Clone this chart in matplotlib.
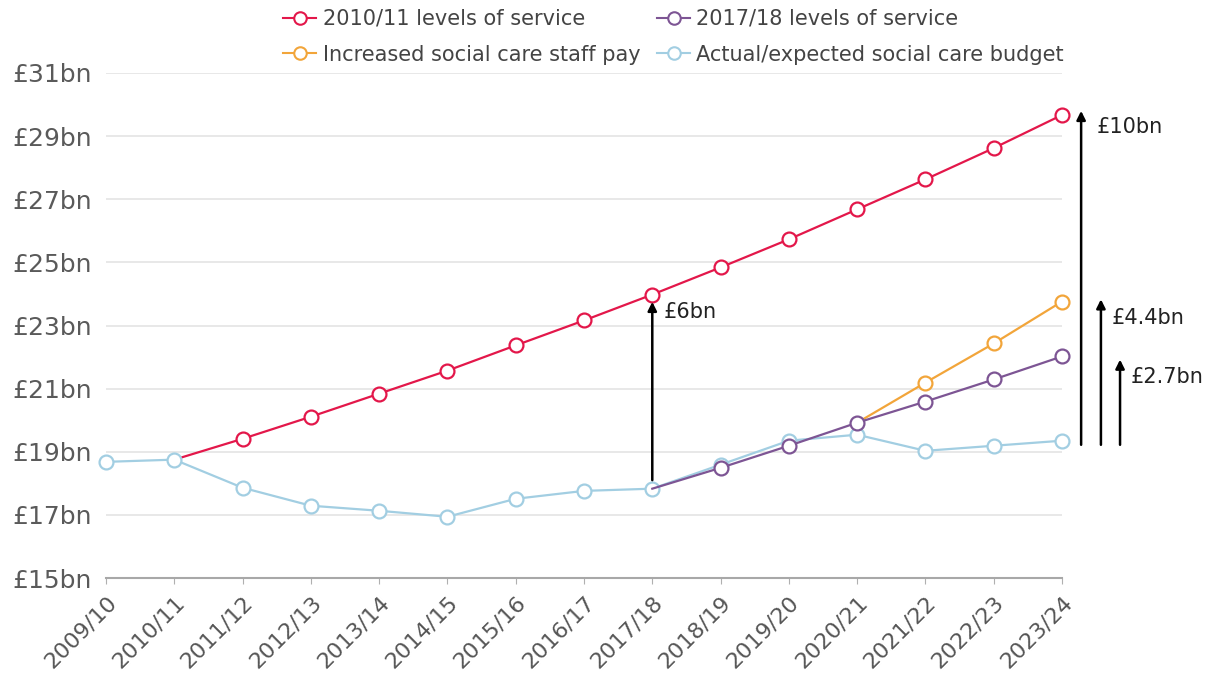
import matplotlib
matplotlib.use("Agg")
import matplotlib.pyplot as plt
from matplotlib.lines import Line2D

years = ["2009/10", "2010/11", "2011/12", "2012/13", "2013/14", "2014/15",
         "2015/16", "2016/17", "2017/18", "2018/19", "2019/20", "2020/21",
         "2021/22", "2022/23", "2023/24"]

# Spending (£bn) under each scenario; series begin at the year they branch off
levels_2010 = [18.75, 19.41, 20.11, 20.84, 21.57, 22.37, 23.16, 23.98,
               24.84, 25.73, 26.68, 27.63, 28.62, 29.67]            # from 2010/11
levels_2018 = [17.83, 18.49, 19.19, 19.92, 20.59, 21.29, 22.02]     # from 2017/18
staff_pay = [19.92, 21.19, 22.43, 23.76]                            # from 2020/21
budget = [18.68, 18.75, 17.86, 17.29, 17.13, 16.94, 17.51, 17.76, 17.83,
          18.59, 19.35, 19.54, 19.03, 19.19, 19.35]                 # from 2009/10

y_ticks = [15, 17, 19, 21, 23, 25, 27, 29, 31]

# Funding gaps shown as arrows: (label, x position, bottom, top)
gap_arrows = [("£10bn", 14.28, 19.22, 29.80),
              ("£4.4bn", 14.57, 19.22, 23.83),
              ("£2.7bn", 14.85, 19.22, 21.92)]
gap_2018 = ("£6bn", 8, 18.10, 23.75)

RED = "#E3174A"
PURPLE = "#7D5594"
ORANGE = "#F2A53A"
BLUE = "#A2CEE2"

plt.rcParams["font.family"] = ["DejaVu Sans"]

fig = plt.figure(figsize=(12.12, 6.90), dpi=100)
ax = fig.add_axes([106 / 1212, 1 - 578 / 690, (1062 - 106) / 1212, (578 - 73) / 690])

x_all = list(range(len(years)))
marker_kw = dict(marker="o", markersize=10, markerfacecolor="white",
                 markeredgewidth=1.6, linewidth=1.6, clip_on=False)

ax.plot(x_all, budget, color=BLUE, zorder=4, **marker_kw)
ax.plot(x_all[1:], levels_2010, color=RED, zorder=3,
        markevery=list(range(1, len(levels_2010))), **marker_kw)
ax.plot(x_all[8:], levels_2018, color=PURPLE, zorder=5,
        markevery=list(range(1, len(levels_2018))), **marker_kw)
ax.plot(x_all[11:], staff_pay, color=ORANGE, zorder=4.5,
        markevery=list(range(1, len(staff_pay))), **marker_kw)

ax.set_xlim(0, len(years) - 1)
ax.set_ylim(y_ticks[0], y_ticks[-1])
ax.set_yticks(y_ticks)
ax.set_yticklabels([f"£{v}bn" for v in y_ticks])
ax.set_xticks(x_all)
ax.set_xticklabels(years, rotation=45, ha="right", va="top", rotation_mode="anchor")

ax.grid(axis="y", color="#E6E6E6", linewidth=1.3)
ax.set_axisbelow(True)
for side in ("top", "right", "left"):
    ax.spines[side].set_visible(False)
ax.spines["bottom"].set_color("#A8A8A8")
ax.spines["bottom"].set_linewidth(1.5)
ax.tick_params(axis="y", length=0, pad=10, labelsize=18, labelcolor="#5A5A5A")
ax.tick_params(axis="x", length=4, color="#B0B0B0", pad=6, labelsize=16,
               labelcolor="#555555")

arrow_kw = dict(arrowstyle="-|>", color="black", lw=1.8, mutation_scale=13,
                shrinkA=0, shrinkB=0)

label, xa, y0, y1 = gap_2018
ax.annotate("", xy=(xa, y1), xytext=(xa, y0), arrowprops=arrow_kw,
            annotation_clip=False, zorder=6)
ax.text(xa + 0.16, y1 - 0.33, label, fontsize=15, color="#222222",
        va="center", ha="left")

label_offsets = [(0.23, -0.52), (0.16, -0.58), (0.16, -0.54)]
for (label, xa, y0, y1), (dx, dy) in zip(gap_arrows, label_offsets):
    ax.annotate("", xy=(xa, y1), xytext=(xa, y0), arrowprops=arrow_kw,
                annotation_clip=False, zorder=6)
    ax.text(xa + dx, y1 + dy, label, fontsize=15, color="#222222",
            va="center", ha="left", clip_on=False)

def handle(color):
    return Line2D([], [], color=color, marker="o", markersize=9,
                  markerfacecolor="white", markeredgewidth=1.5, linewidth=1.5)

handles = [handle(RED), handle(ORANGE), handle(PURPLE), handle(BLUE)]
labels = ["2010/11 levels of service", "Increased social care staff pay",
          "2017/18 levels of service", "Actual/expected social care budget"]
fig.legend(handles, labels, ncol=2, loc="upper left",
           bbox_to_anchor=(283 / 1212, 1 - 9 / 690), frameon=False,
           fontsize=15, labelcolor="#444444", handlelength=1.6,
           handletextpad=0.3, columnspacing=0.8, borderpad=0,
           borderaxespad=0, labelspacing=0.75)

fig.savefig("out.png", dpi=100, facecolor="white")
